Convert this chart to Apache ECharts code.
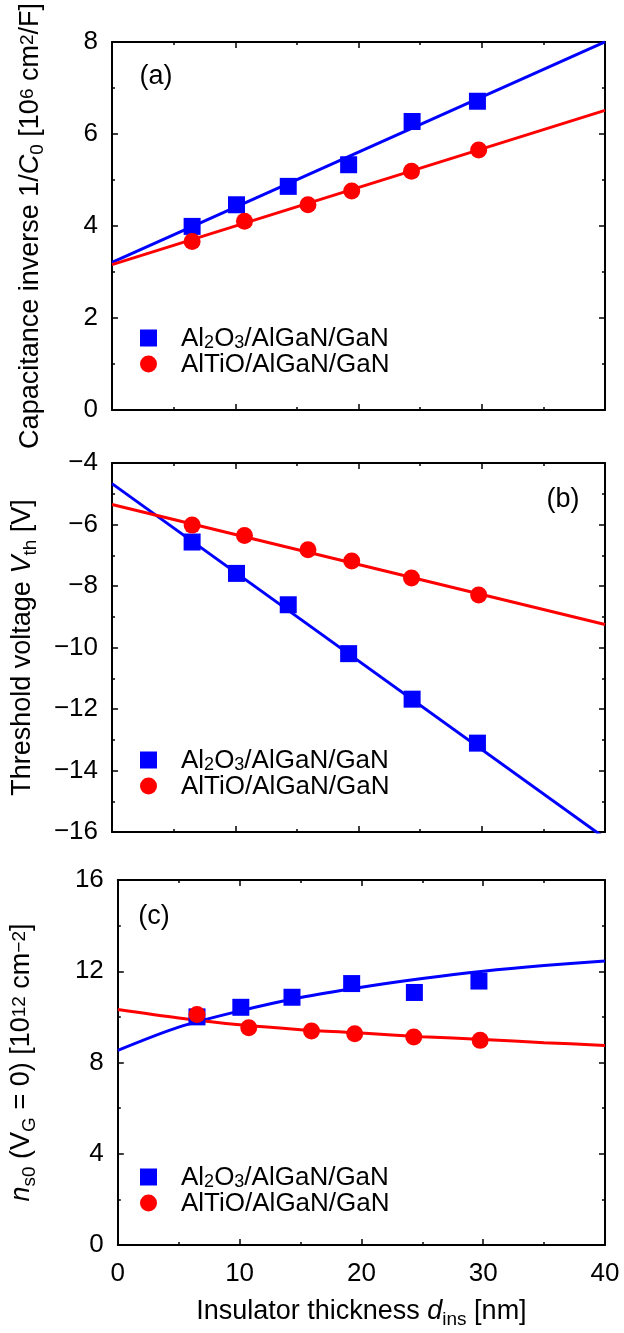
<!DOCTYPE html>
<html>
<head>
<meta charset="utf-8">
<script src="https://cdn.jsdelivr.net/npm/echarts@6/dist/echarts.min.js"></script>
<style>
  html, body { margin: 0; padding: 0; background: #fff; }
  #chart { width: 624px; height: 1333px; }
</style>
</head>
<body>
<div id="chart"></div>
<script>
// Insulator thickness of the measured samples [nm]
const thicknessAl2O3 = [6.5, 10.1, 14.3, 19.2, 24.35, 29.65];
const thicknessAlTiO = [6.5, 10.75, 15.9, 19.45, 24.3, 29.75];

// (a) capacitance inverse 1/C0 [10^6 cm^2/F]
const invCapAl2O3 = [3.99, 4.46, 4.86, 5.33, 6.27, 6.71];
const invCapAlTiO = [3.66, 4.10, 4.46, 4.76, 5.19, 5.65];

// (b) threshold voltage Vth [V]
const vthAl2O3 = [-6.57, -7.59, -8.61, -10.2, -11.68, -13.11];
const vthAlTiO = [-6.02, -6.36, -6.82, -7.19, -7.74, -8.29];

// (c) sheet electron density ns0 at VG = 0 [10^12 cm^-2]
const ns0Al2O3 = [10.0, 10.42, 10.86, 11.46, 11.07, 11.57];
const ns0AlTiO = [10.1, 9.52, 9.38, 9.26, 9.12, 8.97];

// Linear fits for (a) and (b), sampled at the axis ends
const lineX = [0, 40];
const invCapFitAl2O3 = [3.21, 8.0];
const invCapFitAlTiO = [3.16, 6.51];
const vthFitAl2O3 = [-4.67, -16.2];
const vthFitAlTiO = [-5.35, -9.25];

// Model curves for (c)
const curveX = [0, 5, 10, 15, 20, 25, 30, 35, 40];
const ns0FitAl2O3 = [8.53, 9.55, 10.26, 10.85, 11.30, 11.68, 12.00, 12.25, 12.45];
const ns0FitAlTiO = [10.32, 9.95, 9.65, 9.44, 9.29, 9.13, 9.01, 8.87, 8.75];

// Axis ranges: [min, max, interval]
const xRange = [0, 40, 10];
const yRanges = [[0, 8, 2], [-16, -4, 2], [0, 16, 4]];

const seriesNames = ['Al2O3/AlGaN/GaN', 'AlTiO/AlGaN/GaN'];
const panelLabels = ['(a)', '(b)', '(c)'];

const FONT = '"Liberation Sans", Arial, Helvetica, sans-serif';
const BLUE = '#0000ff';
const RED = '#ff0000';

// Plot boxes of the three stacked panels
const grids = [
  { left: 112, top: 41, width: 493, height: 369 },
  { left: 112, top: 463, width: 493, height: 369 },
  { left: 112, top: 880, width: 493, height: 368 }
];

// Rich text pieces for axis titles: plain, italic, subscript, superscript
const titleRich = {
  m: { fontSize: 27, fontFamily: FONT, color: '#000', lineHeight: 32, padding: [0, 0, 7, 0], verticalAlign: 'bottom' },
  i: { fontSize: 27, fontFamily: FONT, color: '#000', fontStyle: 'italic', lineHeight: 32, padding: [0, 0, 7, 0], verticalAlign: 'bottom' },
  sub: { fontSize: 19, fontFamily: FONT, color: '#000', lineHeight: 13, padding: [0, 0, 3, 0], verticalAlign: 'bottom' },
  sup: { fontSize: 19, fontFamily: FONT, color: '#000', lineHeight: 15, padding: [0, 0, 35, 0], verticalAlign: 'top' }
};

const yTitles = [
  '{m|Capacitance inverse 1/}{i|C}{sub|0}{m| [10}{sup|6}{m| cm}{sup|2}{m|/F]}',
  '{m|Threshold voltage }{i|V}{sub|th}{m| [V]}',
  '{i|n}{sub|s0}{m| (V}{sub|G}{m| = 0) [10}{sup|12}{m| cm}{sup|\u22122}{m|]}'
];
const xTitle = '{m|Insulator thickness }{i|d}{sub|ins}{m| [nm]}';

const minus = v => String(v).replace('-', '\u2212');

function axis(gridIndex, position, range, withLabels) {
  return {
    type: 'value',
    gridIndex,
    position,
    min: range[0],
    max: range[1],
    interval: range[2],
    axisLine: { show: true, onZero: false, lineStyle: { color: '#000', width: 2 } },
    axisTick: { show: true, inside: true, length: 6, lineStyle: { color: '#000', width: 1.5 } },
    minorTick: { show: true, splitNumber: 2, length: 3, lineStyle: { color: '#000', width: 1.5 } },
    splitLine: { show: false },
    minorSplitLine: { show: false },
    axisLabel: {
      show: withLabels,
      showMinLabel: true,
      showMaxLabel: true,
      fontSize: 26,
      fontFamily: FONT,
      color: '#000',
      margin: position === 'left' ? 14 : 16,
      formatter: minus
    }
  };
}

const xAxes = [];
const yAxes = [];
grids.forEach((g, k) => {
  const bottom = axis(k, 'bottom', xRange, k === 2);
  if (k === 2) {
    Object.assign(bottom, {
      name: xTitle,
      nameLocation: 'middle',
      nameGap: 55,
      nameTextStyle: { rich: titleRich }
    });
  }
  xAxes.push(bottom, axis(k, 'top', xRange, false));
  const left = axis(k, 'left', yRanges[k], true);
  Object.assign(left, {
    name: yTitles[k],
    nameLocation: 'middle',
    nameGap: 52,
    nameTextStyle: { rich: titleRich }
  });
  yAxes.push(left, axis(k, 'right', yRanges[k], false));
});

const pairs = (xs, ys) => xs.map((x, i) => [x, ys[i]]);

function fit(k, xs, ys, color, tag) {
  return {
    name: 'fit ' + tag + ' ' + k,
    type: 'line',
    xAxisIndex: 2 * k,
    yAxisIndex: 2 * k,
    data: pairs(xs, ys),
    symbol: 'none',
    smooth: xs.length > 2 ? 0.3 : false,
    clip: true,
    lineStyle: { color, width: 3 },
    itemStyle: { color },
    silent: true,
    z: 2
  };
}

function points(k, name, xs, ys, color, symbol) {
  return {
    name,
    type: 'scatter',
    xAxisIndex: 2 * k,
    yAxisIndex: 2 * k,
    data: pairs(xs, ys),
    symbol,
    symbolSize: 17,
    itemStyle: { color, opacity: 1 },
    silent: true,
    z: 3
  };
}

const series = [
  fit(0, lineX, invCapFitAl2O3, BLUE, 'Al2O3'),
  fit(0, lineX, invCapFitAlTiO, RED, 'AlTiO'),
  points(0, seriesNames[0], thicknessAl2O3, invCapAl2O3, BLUE, 'rect'),
  points(0, seriesNames[1], thicknessAlTiO, invCapAlTiO, RED, 'circle'),

  fit(1, lineX, vthFitAl2O3, BLUE, 'Al2O3'),
  fit(1, lineX, vthFitAlTiO, RED, 'AlTiO'),
  points(1, seriesNames[0], thicknessAl2O3, vthAl2O3, BLUE, 'rect'),
  points(1, seriesNames[1], thicknessAlTiO, vthAlTiO, RED, 'circle'),

  fit(2, curveX, ns0FitAl2O3, BLUE, 'Al2O3'),
  fit(2, curveX, ns0FitAlTiO, RED, 'AlTiO'),
  points(2, seriesNames[0], thicknessAl2O3, ns0Al2O3, BLUE, 'rect'),
  points(2, seriesNames[1], thicknessAlTiO, ns0AlTiO, RED, 'circle')
];

const legendRich = {
  m: { fontSize: 26, fontFamily: FONT, color: '#000', lineHeight: 28, verticalAlign: 'bottom' },
  sub: { fontSize: 18, fontFamily: FONT, color: '#000', lineHeight: 12, verticalAlign: 'bottom' }
};
const legendText = name => name === seriesNames[0]
  ? '{m|Al}{sub|2}{m|O}{sub|3}{m|/AlGaN/GaN}'
  : '{m|' + name + '}';

const legendTops = [326, 748, 1165];
const legends = legendTops.map(top => ({
  orient: 'vertical',
  left: 140,
  top,
  padding: 0,
  itemGap: 0,
  itemWidth: 17,
  itemHeight: 17,
  selectedMode: false,
  data: [
    { name: seriesNames[0], icon: 'rect' },
    { name: seriesNames[1], icon: 'circle' }
  ],
  formatter: legendText,
  textStyle: { padding: [0, 0, 0, 19], rich: legendRich }
}));

const labelPos = [[156, 77], [563, 500], [154, 917]];
const graphic = panelLabels.map((t, k) => ({
  type: 'text',
  x: labelPos[k][0],
  y: labelPos[k][1],
  silent: true,
  style: {
    text: t,
    fontSize: 27,
    fontFamily: FONT,
    fill: '#000',
    align: 'center',
    verticalAlign: 'middle',
    textAlign: 'center',
    textVerticalAlign: 'middle'
  }
}));

const chart = echarts.init(document.getElementById('chart'), null, { renderer: 'canvas' });
chart.setOption({
  animation: false,
  backgroundColor: '#fff',
  grid: grids,
  xAxis: xAxes,
  yAxis: yAxes,
  legend: legends,
  graphic,
  series
});
</script>
</body>
</html>
